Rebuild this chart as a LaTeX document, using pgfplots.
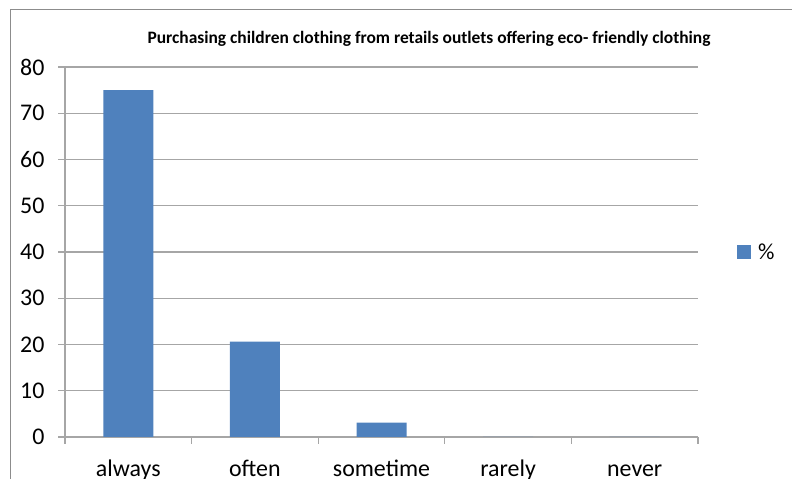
\documentclass[border=0pt]{standalone}
\usepackage{pgfplots}
\pgfplotsset{compat=1.18}
\usepackage{fontspec}
\setmainfont{Carlito}
\definecolor{barblue}{HTML}{4F81BD}
\definecolor{gridgrey}{HTML}{A6A6A6}
\definecolor{framegrey}{HTML}{8C8C8C}
\begin{document}
\begin{tikzpicture}[x=1bp,y=1bp]
\useasboundingbox (0,0) rectangle (792,479);
\draw[framegrey, line width=1bp] (10,-20) -- (10,469) -- (820,469);
\node[font=\bfseries\fontsize{17.5}{20}\selectfont, anchor=base] at (429,435) {Purchasing children clothing from retails outlets offering eco- friendly clothing};
\begin{axis}[
  scale only axis,
  width=633bp, height=370bp,
  at={(65bp,42bp)}, anchor=south west,
  xmin=-0.5, xmax=4.5, ymin=0, ymax=80,
  axis x line=bottom, axis y line=left,
  axis line style={-, gridgrey, line width=1.2bp},
  ytick={0,10,...,80},
  ymajorgrids, grid style={gridgrey, line width=1.2bp},
  xtick={-0.5,0.5,...,4.5},
  x tick label as interval,
  xticklabels={always,often,sometime,rarely,never},
  tick align=outside,
  major tick length=7bp,
  tick style={gridgrey, line width=1.2bp},
  /pgf/number format/assume math mode=true,
  ticklabel style={font=\fontsize{24}{28}\selectfont, text=black},
  yticklabel style={anchor=east, xshift=-10bp},
  xticklabel style={anchor=base, yshift=-33bp},
  legend style={at={(672bp,185bp)}, anchor=west, draw=none, fill=none, font=\fontsize{23}{26}\selectfont, inner sep=0pt},
  legend cell align=left,
  legend image code/.code={\fill[barblue] (0bp,-7bp) rectangle (14bp,7bp); \path (19bp,0bp);},
  clip=false,
]
\addplot[ybar, bar width=50bp, fill=barblue, draw=none] coordinates {(0,75) (1,20.6) (2,3.1) (3,0) (4,0)};
\addlegendentry{\%}
\end{axis}
\end{tikzpicture}
\end{document}
